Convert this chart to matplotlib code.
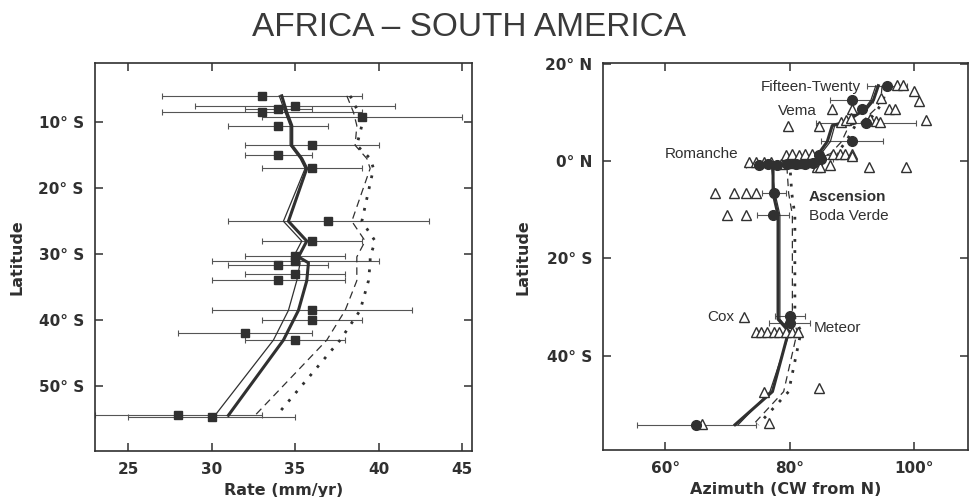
import numpy as np
import matplotlib
matplotlib.use("Agg")
import matplotlib.pyplot as plt
from matplotlib import font_manager

plt.rcParams['font.family'] = ['DejaVu Sans']
INK = '#303030'

# ---- left panel: spreading rate vs latitude (deg S) ----
rate_lat = [6.0, 7.6, 8.0, 8.4, 9.2, 10.5, 13.5, 15.0, 17.0, 24.9, 28.0, 30.3, 31.0,
            31.6, 33.0, 33.9, 38.4, 40.0, 42.0, 43.0, 54.3, 54.6]
rate_val = [33, 35, 34, 33, 39, 34, 36, 34, 36, 37, 36, 35, 35,
            34, 35, 34, 36, 36, 32, 35, 28, 30]
rate_lo = [27, 29, 32, 27, 33, 31, 32, 32, 33, 31, 33, 32, 30,
           31, 32, 30, 30, 33, 28, 32, 23, 25]
rate_hi = [39, 41, 36, 39, 45, 37, 40, 36, 39, 43, 39, 38, 40,
           37, 38, 38, 42, 39, 36, 38, 33, 35]

model_lat = [6, 8.5, 10.5, 13.5, 15.5, 17, 25, 28, 30.4, 31.3, 34, 38.5, 43, 54.4]
rate_thin = [34.05, 34.4, 34.7, 34.7, 35.3, 35.6, 34.3, 35.4, 34.9, 35.3, 35.1, 34.6, 33.7, 30.2]
rate_thick = [34.2, 34.5, 34.8, 34.8, 35.4, 35.7, 34.6, 35.7, 35.2, 35.8, 35.7, 35.2, 34.3, 31.0]
rate_dash = [38.1, 38.5, 38.7, 38.6, 39.3, 39.5, 38.4, 39.2, 38.7, 38.7, 38.7, 38.0, 36.9, 32.6]
rate_dot = [38.3, 38.8, 39.0, 38.7, 39.5, 39.7, 39.0, 39.8, 39.5, 39.5, 39.4, 38.9, 37.7, 33.9]

# ---- right panel: azimuth vs latitude (deg N positive) ----
tri_az = [97.2, 98.2, 100.0, 100.7, 94.7, 86.8, 89.9, 95.9, 96.9, 79.7, 84.7, 88.2, 89.0,
          89.8, 92.9, 93.8, 94.5, 101.9,
          73.4, 74.5, 75.8, 76.9, 78.5, 80.0, 81.5, 83.0,
          79.3, 80.3, 81.4, 82.5, 83.5, 84.6, 87.0, 88.1, 88.9, 89.9, 90.0,
          84.4, 84.9, 86.5, 92.7, 98.6,
          67.9, 71.0, 72.9, 74.6, 69.9, 72.9,
          72.7, 74.6, 75.4, 76.3, 77.4, 78.2, 79.3, 80.3, 81.3,
          75.8, 84.6, 65.9, 76.6]
tri_lat = [15.6, 15.6, 14.4, 12.3, 12.9, 10.8, 10.8, 10.8, 10.8, 7.2, 7.2, 8.0, 8.4,
           8.8, 8.6, 8.3, 8.0, 8.5,
           -0.2, -0.2, -0.1, -0.2, -0.5, -0.3, -0.4, -0.2,
           1.3, 1.4, 1.3, 1.5, 1.4, 1.3, 1.5, 1.4, 1.5, 1.4, 1.0,
           -1.2, -1.2, -0.9, -1.2, -1.2,
           -6.6, -6.6, -6.6, -6.6, -11.1, -11.1,
           -32.0, -35.2, -35.2, -35.2, -35.2, -35.2, -35.2, -35.2, -35.2,
           -47.4, -46.7, -54.1, -53.8]

circ_az = [95.6, 89.9, 91.5, 92.2, 90.0, 84.6, 75.0, 76.5, 78.0, 79.5, 81.0, 82.5, 83.7,
           85.0, 77.5, 77.3, 80.0, 80.0, 65.0]
circ_lat = [15.5, 12.5, 10.8, 7.9, 4.1, 1.2, -0.8, -0.7, -0.8, -0.6, -0.7, -0.5, -0.3,
            0.5, -6.6, -11.1, -31.9, -33.3, -54.2]
circ_err = [3.2, 3.4, 0.0, 8.0, 5.0, 3.0, 2.0, 1.5, 0.0, 1.5, 2.0, 0.0, 1.5,
            2.0, 1.9, 2.5, 2.4, 3.3, 9.6]

az_lat = [15.5, 12.5, 10.8, 8.0, 7.3, 4.0, 1.5, 0.0, -0.8, -6.6, -11.1, -32.5, -35.0, -47.4, -54.2]
az_thin = [93.8, 93.0, 92.0, 89.0, 87.2, 86.5, 85.0, 80.0, 77.0, 77.6, 78.4, 78.4, 80.0, 76.8, 71.7]
az_thick = [94.2, 93.4, 92.3, 88.8, 86.8, 86.0, 84.6, 80.5, 77.3, 77.3, 78.1, 78.1, 79.8, 77.2, 71.2]
az_dash = [94.8, 94.6, 93.8, 91.5, 89.5, 88.3, 86.5, 82.5, 79.5, 79.8, 80.4, 80.4, 81.2, 79.0, 74.1]
az_dot = [95.5, 95.0, 94.2, 92.5, 90.5, 89.0, 87.5, 83.5, 80.0, 80.3, 80.8, 80.8, 81.8, 79.8, 74.9]

ridge_names = ['Fifteen-Twenty', 'Vema', 'Romanche', 'Ascension', 'Boda Verde', 'Cox', 'Meteor']
name_az = [91.4, 84.3, 71.8, 83.0, 83.0, 71.0, 83.8]
name_lat = [15.3, 10.2, 1.5, -7.4, -11.3, -32.1, -34.4]
name_ha = ['right', 'right', 'right', 'left', 'left', 'right', 'left']
name_wt = ['normal', 'normal', 'normal', 'bold', 'normal', 'normal', 'normal']

fig = plt.figure(figsize=(9.69, 4.97), dpi=100)


def style_axes(ax):
    for s in ax.spines.values():
        s.set_linewidth(1.2)
        s.set_color(INK)
    ax.tick_params(direction='in', length=6, width=1.1, top=True, right=True,
                   colors=INK, labelsize=11, pad=8)
    for lab in ax.get_xticklabels() + ax.get_yticklabels():
        lab.set_fontweight('bold')


# left panel
ax1 = fig.add_axes([0.098, 0.0926, 0.389, 0.781])
rv = np.array(rate_val)
ax1.errorbar(rv, -np.array(rate_lat),
             xerr=[rv - np.array(rate_lo), np.array(rate_hi) - rv],
             fmt='none', ecolor='#555555', elinewidth=0.8, capsize=2, capthick=0.8)
ax1.plot(rate_val, -np.array(rate_lat), 's', color=INK, ms=5.5)
ml = -np.array(model_lat)
ax1.plot(rate_thin, ml, '-', color=INK, lw=0.9)
ax1.plot(rate_thick, ml, '-', color=INK, lw=2.2)
ax1.plot(rate_dash, ml, '--', color=INK, lw=0.9, dashes=(6, 4))
ax1.plot(rate_dot, ml, ':', color=INK, lw=2.0, dashes=(1, 3))
ax1.set_xlim(23, 45.6)
ax1.set_ylim(-59.8, -1)
ax1.set_xticks([25, 30, 35, 40, 45])
ax1.set_yticks([-10, -20, -30, -40, -50])
ax1.set_yticklabels(['10° S', '20° S', '30° S', '40° S', '50° S'])
ax1.set_xlabel('Rate (mm/yr)', fontsize=11.5, fontweight='bold', color=INK, labelpad=4)
ax1.set_ylabel('Latitude', fontsize=11.5, fontweight='bold', color=INK, labelpad=10)
style_axes(ax1)

# right panel
ax2 = fig.add_axes([0.6223, 0.0946, 0.3767, 0.778])
ca = np.array(circ_az)
ax2.errorbar(ca, circ_lat, xerr=circ_err, fmt='none', ecolor='#555555',
             elinewidth=0.8, capsize=2, capthick=0.8)
al = np.array(az_lat)
ax2.plot(az_thin, al, '-', color=INK, lw=0.9)
ax2.plot(az_thick, al, '-', color=INK, lw=2.2)
ax2.plot(az_dash, al, '--', color=INK, lw=0.9, dashes=(6, 4))
ax2.plot(az_dot, al, ':', color=INK, lw=2.0, dashes=(1, 3))
ax2.plot(tri_az, tri_lat, '^', mfc='white', mec=INK, mew=1.0, ms=6.5)
ax2.plot(circ_az, circ_lat, 'o', color=INK, ms=7)
for name, x, y, ha, wt in zip(ridge_names, name_az, name_lat, name_ha, name_wt):
    ax2.text(x, y, name, ha=ha, va='center', fontsize=11, fontweight=wt,
             color=INK, family=['Liberation Sans', 'DejaVu Sans'])
ax2.set_xlim(50, 108.6)
ax2.set_ylim(-59.4, 20.1)
ax2.set_xticks([60, 80, 100])
ax2.set_xticklabels(['60°', '80°', '100°'])
ax2.set_yticks([20, 0, -20, -40])
ax2.set_yticklabels(['20° N', '0° N', '20° S', '40° S'])
ax2.set_xlabel('Azimuth (CW from N)', fontsize=11.5, fontweight='bold', color=INK, labelpad=4)
ax2.set_ylabel('Latitude', fontsize=11.5, fontweight='bold', color=INK, labelpad=10)
style_axes(ax2)

# title: narrow face if available (taller letters at same width)
names = {f.name for f in font_manager.fontManager.ttflist}
if 'Liberation Sans Narrow' in names:
    tfam, tsize = ['Liberation Sans Narrow', 'DejaVu Sans'], 29
else:
    tfam, tsize = ['Liberation Sans', 'DejaVu Sans'], 24
fig.text(0.484, 0.944, 'AFRICA – SOUTH AMERICA', ha='center', va='center',
         fontsize=tsize, color='#3a3a3a', family=tfam)

fig.savefig('out.png', dpi=100)
